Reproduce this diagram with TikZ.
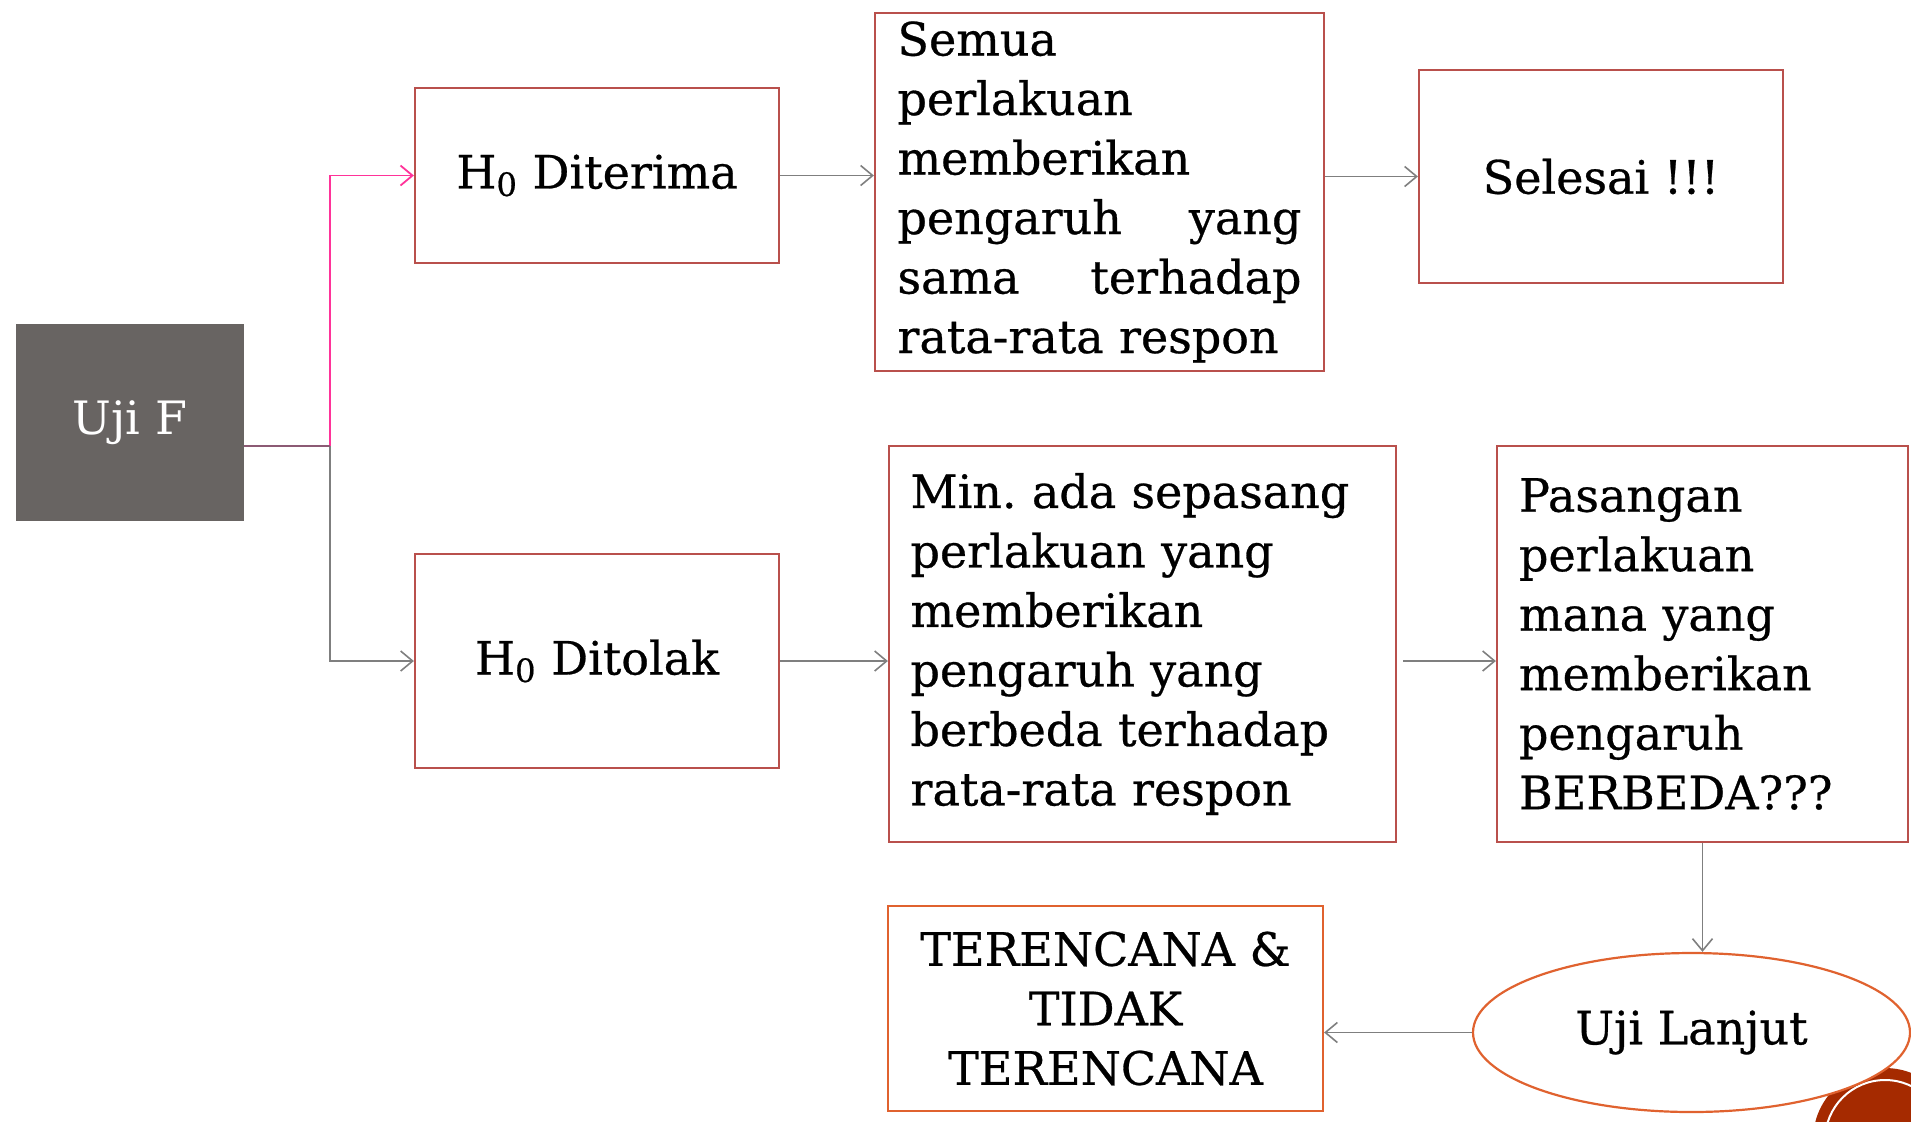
\documentclass[tikz,border=0pt]{standalone}
\usepackage{fontspec}
\setmainfont{DejaVu Serif}
\newfontfamily\heavyserif{DejaVu Serif}[FakeBold=0.6]
\usetikzlibrary{arrows.meta,shapes.geometric,calc}
\definecolor{boxred}{HTML}{B9504C}
\definecolor{boxorange}{HTML}{E0622F}
\definecolor{linegray}{HTML}{7F7F7F}
\definecolor{linkpink}{HTML}{FF3399}
\definecolor{ujigray}{HTML}{686462}
\definecolor{mauve}{HTML}{8C5A74}
\definecolor{decored}{HTML}{A52A00}
\frenchspacing
\begin{document}
\begin{tikzpicture}[x=0.5pt,y=-0.5pt,
  txt/.style={font=\heavyserif\fontsize{23}{29.75}\selectfont},
  box/.style={draw=boxred, line width=1.1pt, fill=white, inner sep=0pt, txt, align=center},
  obox/.style={draw=boxorange, line width=1.1pt, fill=white, inner sep=0pt, txt, align=center},
  darkbox/.style={fill=ujigray, draw=none, inner sep=0pt, font=\fontsize{23}{29.75}\selectfont, text=white},
  conn/.style={draw=linegray, line width=0.8pt, -{Straight Barb[length=6pt,width=10pt]}},
  pinkconn/.style={draw=linkpink, line width=0.9pt, -{Straight Barb[length=6pt,width=10pt]}},
]
\useasboundingbox (0,0) rectangle (1911,1121);
% slide decoration
\begin{scope}
\clip (0,0) rectangle (1911,1121);
\fill[decored] (1885,1140) circle[radius=36pt];
\draw[white, line width=1pt] (1885,1140) circle[radius=30pt];
\end{scope}

\node[darkbox, minimum width=114pt, minimum height=98.5pt] (ujif) at (130,422.5) {Uji F};
\node[box, minimum width=182pt, minimum height=87.5pt] (diterima) at (597,175.5) {H\textsubscript{0} Diterima};
\node[box, minimum width=182pt, minimum height=107pt] (ditolak) at (597,661) {H\textsubscript{0} Ditolak};
\node[box, minimum width=224.5pt, minimum height=179pt, text width=202pt, align=left] (semua) at (1099.5,192)
  {Semua\\perlakuan\\memberikan\\\makebox[202pt][l]{pengaruh\hfill yang}\\\makebox[202pt][l]{sama\hfill terhadap}\\rata-rata respon};
\node[box, minimum width=182pt, minimum height=106.5pt] (selesai) at (1601,176.5) {Selesai !!!};
\node[box, minimum width=253.5pt, minimum height=198pt, text width=232pt, align=left] (minada) at (1142.5,644)
  {Min. ada sepasang\\perlakuan yang\\memberikan\\pengaruh yang\\berbeda terhadap\\rata-rata respon};
\node[box, minimum width=205.5pt, minimum height=198pt, text width=183.5pt, align=left] (pasangan) at (1702.5,644)
  {Pasangan\\perlakuan\\mana yang\\memberikan\\pengaruh\\BERBEDA???};
\node[obox, minimum width=217.5pt, minimum height=102.5pt] (teren) at (1105.5,1008.5)
  {TERENCANA \&\\TIDAK\\TERENCANA};
\node[obox, ellipse, minimum width=218.5pt, minimum height=79.5pt] (lanjut) at (1691.5,1032.5) {Uji Lanjut};

% connectors
\coordinate (us) at (244,446);
\coordinate (jn) at (330,446);
\draw[conn] (jn) |- (ditolak.west);
\draw[pinkconn] (jn) |- (diterima.west);
\draw[mauve, line width=0.9pt] (us) -- (jn);
\draw[conn] (diterima.east) -- (diterima.east -| semua.west);
\draw[conn] (semua.east |- selesai.west) -- (selesai.west);
\draw[conn] (ditolak.east) -- (ditolak.east -| minada.west);
\draw[conn] ([xshift=3pt]minada.east |- ditolak.east) -- (pasangan.west |- ditolak.east);
\draw[conn] (pasangan.south) -- (pasangan.south |- lanjut.north);
\draw[conn] (lanjut.west) -- (lanjut.west -| teren.east);
\end{tikzpicture}
\end{document}
